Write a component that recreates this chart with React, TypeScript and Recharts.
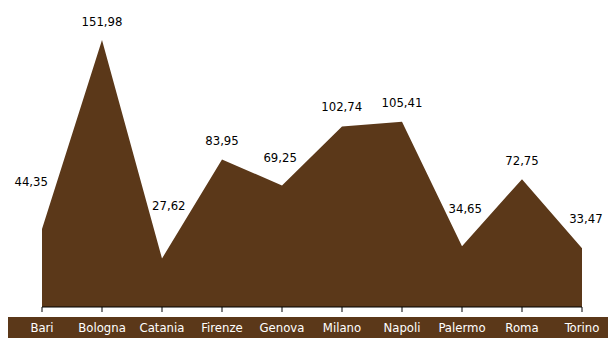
import React from 'react';
import { AreaChart, Area, XAxis, YAxis } from 'recharts';

const cities = ['Bari', 'Bologna', 'Catania', 'Firenze', 'Genova', 'Milano', 'Napoli', 'Palermo', 'Roma', 'Torino'];
const values = [44.35, 151.98, 27.62, 83.95, 69.25, 102.74, 105.41, 34.65, 72.75, 33.47];

const data = cities.map((c, i) => ({ city: c, value: values[i] }));

const BROWN = '#5B3819';
const FONT = "Tahoma, 'DejaVu Sans Condensed', 'DejaVu Sans', sans-serif";

const fmt = (v: number) => v.toFixed(2).replace('.', ',');

const ValueLabel = (props: any) => {
  const { x, y, index } = props;
  const v = values[index];
  const left = index > 0 ? values[index - 1] : null;
  const right = index < values.length - 1 ? values[index + 1] : null;
  const leftRise = left !== null ? Math.max(0, left - v) : 0;
  const rightRise = right !== null ? Math.max(0, right - v) : 0;
  const extra = 0.27 * Math.max(leftRise, rightRise);
  const dx = 0.1 * (leftRise - rightRise);
  return (
    <text
      x={x + dx}
      y={y - 19 - extra}
      textAnchor="middle"
      dominantBaseline="central"
      fontSize={13}
      fontFamily={FONT}
      fontStretch="condensed"
      fill="#000"
    >
      {fmt(v)}
    </text>
  );
};

const CityTick = (props: any) => {
  const { x, y, payload, index } = props;
  const rx = index === 0 ? 8 : x - 30;
  const rw = index === 0 ? x + 30 - 8 : 60;
  return (
    <g>
      <rect x={rx} y={y + 5} width={rw} height={21} fill={BROWN} />
      <text
        x={x}
        y={y + 15.5}
        textAnchor="middle"
        dominantBaseline="central"
        fontSize={13}
        fontFamily={FONT}
        fontStretch="condensed"
        fill="#fff"
      >
        {payload.value}
      </text>
    </g>
  );
};

export default function App() {
  return (
    <div style={{ width: 608, height: 338 }}>
      <style>{'body{margin:0}'}</style>
      <AreaChart
        width={608}
        height={338}
        data={data}
        margin={{ top: 26, right: 26, bottom: 0, left: 42 }}
      >
        <XAxis
          dataKey="city"
          height={31}
          tickSize={5}
          tickMargin={0}
          interval={0}
          axisLine={{ stroke: '#000' }}
          tickLine={{ stroke: '#000' }}
          tick={<CityTick />}
        />
        <YAxis hide domain={[0, 160]} />
        <Area
          type="linear"
          dataKey="value"
          stroke="none"
          fill={BROWN}
          fillOpacity={1}
          isAnimationActive={false}
          dot={false}
          activeDot={false}
          label={<ValueLabel />}
        />
      </AreaChart>
    </div>
  );
}
